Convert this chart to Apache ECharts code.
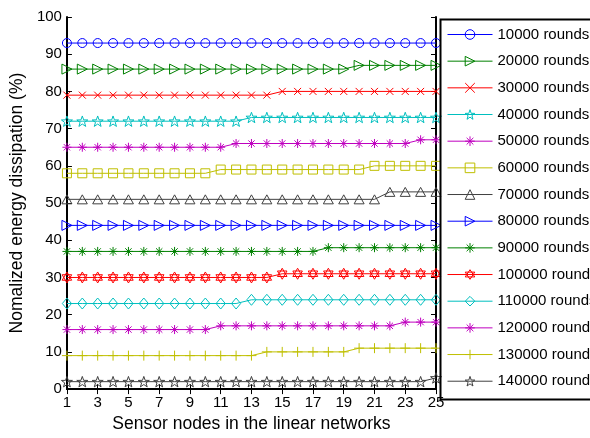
<!DOCTYPE html>
<html>
<head>
<meta charset="utf-8">
<script src="https://cdn.jsdelivr.net/npm/echarts@6/dist/echarts.min.js"></script>
<style>
html,body{margin:0;padding:0;background:#fff;}
#chart{width:590px;height:438px;}
</style>
</head>
<body>
<div id="chart"></div>
<script>
// ---- data ----
const nodes = ['1','2','3','4','5','6','7','8','9','10','11','12','13','14','15','16','17','18','19','20','21','22','23','24','25'];
const yTicks = [0,10,20,30,40,50,60,70,80,90,100];
const seriesNames = ['10000 rounds','20000 rounds','30000 rounds','40000 rounds','50000 rounds','60000 rounds','70000 rounds','80000 rounds','90000 rounds','100000 rounds','110000 rounds','120000 rounds','130000 rounds','140000 rounds'];

const r10000  = [93,93,93,93,93,93,93,93,93,93,93,93,93,93,93,93,93,93,93,93,93,93,93,93,93];
const r20000  = [86,86,86,86,86,86,86,86,86,86,86,86,86,86,86,86,86,86,86,87,87,87,87,87,87];
const r30000  = [79,79,79,79,79,79,79,79,79,79,79,79,79,79,80,80,80,80,80,80,80,80,80,80,80];
const r40000  = [72,72,72,72,72,72,72,72,72,72,72,72,73,73,73,73,73,73,73,73,73,73,73,73,73];
const r50000  = [65,65,65,65,65,65,65,65,65,65,65,66,66,66,66,66,66,66,66,66,66,66,66,67,67];
const r60000  = [58,58,58,58,58,58,58,58,58,58,59,59,59,59,59,59,59,59,59,59,60,60,60,60,60];
const r70000  = [51,51,51,51,51,51,51,51,51,51,51,51,51,51,51,51,51,51,51,51,51,53,53,53,53];
const r80000  = [44,44,44,44,44,44,44,44,44,44,44,44,44,44,44,44,44,44,44,44,44,44,44,44,44];
const r90000  = [37,37,37,37,37,37,37,37,37,37,37,37,37,37,37,37,37,38,38,38,38,38,38,38,38];
const r100000 = [30,30,30,30,30,30,30,30,30,30,30,30,30,30,31,31,31,31,31,31,31,31,31,31,31];
const r110000 = [23,23,23,23,23,23,23,23,23,23,23,23,24,24,24,24,24,24,24,24,24,24,24,24,24];
const r120000 = [16,16,16,16,16,16,16,16,16,16,17,17,17,17,17,17,17,17,17,17,17,17,18,18,18];
const r130000 = [9,9,9,9,9,9,9,9,9,9,9,9,9,10,10,10,10,10,10,11,11,11,11,11,11];
const r140000 = [2,2,2,2,2,2,2,2,2,2,2,2,2,2,2,2,2,2,2,2,2,2,2,2,3];

const allData = [r10000,r20000,r30000,r40000,r50000,r60000,r70000,r80000,r90000,r100000,r110000,r120000,r130000,r140000];

// ---- styles ----
const C = {
  blue:'#0000ff', green:'#008000', red:'#ff0000', cyan:'#00bfbf',
  magenta:'#bf00bf', yellow:'#bfbf00', gray:'#404040'
};
function starPath(points, inner){
  let d = '';
  for (let i = 0; i < points*2; i++){
    const r = (i % 2) ? inner : 1;
    const a = -Math.PI/2 + i*Math.PI/points;
    d += (i ? 'L' : 'M') + (10 + 10*r*Math.cos(a)).toFixed(2) + ',' + (10 + 10*r*Math.sin(a)).toFixed(2);
  }
  return 'path://' + d + 'Z';
}
const SYM = {
  circle: 'circle',
  right: 'path://M0,0L10,5L0,10Z',
  up: 'path://M5,0L10,9L0,9Z',
  x: 'path://M0,0L10,10M10,0L0,10',
  plus: 'path://M5,0L5,10M0,5L10,5',
  aster: 'path://M5,0L5,10M0,5L10,5M1.5,1.5L8.5,8.5M8.5,1.5L1.5,8.5',
  square: 'rect',
  diamond: 'path://M5,0L10,6L5,12L0,6Z',
  penta: starPath(5, 0.4),
  hexa: 'path://M10,0L18.66,15L1.34,15Z M10,20L1.34,5L18.66,5Z'
};
const styles = [
  [C.blue, SYM.circle, 9],
  [C.green, SYM.right, 10],
  [C.red, SYM.x, 7],
  [C.cyan, SYM.penta, 11],
  [C.magenta, SYM.aster, 9],
  [C.yellow, SYM.square, 9],
  [C.gray, SYM.up, 10],
  [C.blue, SYM.right, 10],
  [C.green, SYM.aster, 9],
  [C.red, SYM.hexa, 11],
  [C.cyan, SYM.diamond, 11],
  [C.magenta, SYM.aster, 9],
  [C.yellow, SYM.plus, 10],
  [C.gray, SYM.penta, 11]
];

const FONT = '"Liberation Sans", Arial, sans-serif';
const HOLLOW = 'rgba(255,255,255,0)';

const series = allData.map((d, i) => ({
  name: seriesNames[i],
  type: 'line',
  data: d,
  xAxisIndex: 0,
  yAxisIndex: 0,
  symbol: styles[i][1],
  symbolSize: styles[i][2],
  symbolKeepAspect: true,
  showAllSymbol: true,
  clip: false,
  animation: false,
  lineStyle: { color: styles[i][0], width: 1 },
  itemStyle: { color: HOLLOW, borderColor: styles[i][0], borderWidth: 1 },
  emphasis: { disabled: true }
}));

const legendData = seriesNames.map((n, i) => ({
  name: n,
  itemStyle: { color: HOLLOW, borderColor: styles[i][0], borderWidth: 1 },
  lineStyle: { color: styles[i][0], width: 1 }
}));

const chart = echarts.init(document.getElementById('chart'), null, { renderer: 'canvas' });
chart.setOption({
  backgroundColor: '#ffffff',
  animation: false,
  textStyle: { fontFamily: FONT },
  grid: { left: 66, right: 154, top: 17, bottom: 41, containLabel: false },
  xAxis: [
    {
      type: 'category', data: nodes, boundaryGap: false, position: 'bottom',
      name: 'Sensor nodes in the linear networks', nameLocation: 'middle', nameGap: 24,
      nameTextStyle: { color: '#000', fontSize: 17.5, fontFamily: FONT },
      axisLine: { lineStyle: { color: '#000', width: 2 } },
      axisTick: { inside: true, interval: 1, length: 5, lineStyle: { color: '#000', width: 1 } },
      axisLabel: { interval: 1, color: '#000', fontSize: 15, margin: 6, fontFamily: FONT },
      splitLine: { show: false }
    },
    {
      type: 'category', data: nodes, boundaryGap: false, position: 'top',
      axisLine: { lineStyle: { color: '#000', width: 2 } },
      axisTick: { inside: true, interval: 1, length: 5, lineStyle: { color: '#000', width: 1 } },
      axisLabel: { show: false },
      splitLine: { show: false }
    }
  ],
  yAxis: [
    {
      type: 'value', min: yTicks[0], max: yTicks[yTicks.length-1], interval: 10, position: 'left',
      name: 'Nomalized energy dissipation (%)', nameLocation: 'middle', nameGap: 31,
      nameTextStyle: { color: '#000', fontSize: 17.5, fontFamily: FONT },
      axisLine: { show: true, lineStyle: { color: '#000', width: 2 } },
      axisTick: { show: true, inside: true, length: 5, lineStyle: { color: '#000', width: 1 } },
      axisLabel: { color: '#000', fontSize: 15, margin: 5, fontFamily: FONT },
      splitLine: { show: false }
    },
    {
      type: 'value', min: yTicks[0], max: yTicks[yTicks.length-1], interval: 10, position: 'right',
      axisLine: { show: true, lineStyle: { color: '#000', width: 2 } },
      axisTick: { show: true, inside: true, length: 5, lineStyle: { color: '#000', width: 1 } },
      axisLabel: { show: false },
      splitLine: { show: false }
    }
  ],
  legend: {
    orient: 'vertical', left: 447, top: 27, padding: 0,
    itemWidth: 45, itemHeight: 12, itemGap: 11.67,
    selectedMode: false,
    data: legendData,
    textStyle: { color: '#000', fontSize: 15, lineHeight: 15, fontFamily: FONT }
  },
  graphic: [
    { type: 'rect', left: 438, top: 17, shape: { width: 170, height: 380 },
      style: { fill: 'none', stroke: '#000', lineWidth: 2 }, z: 100, silent: true }
  ],
  series: series
});
</script>
</body>
</html>
